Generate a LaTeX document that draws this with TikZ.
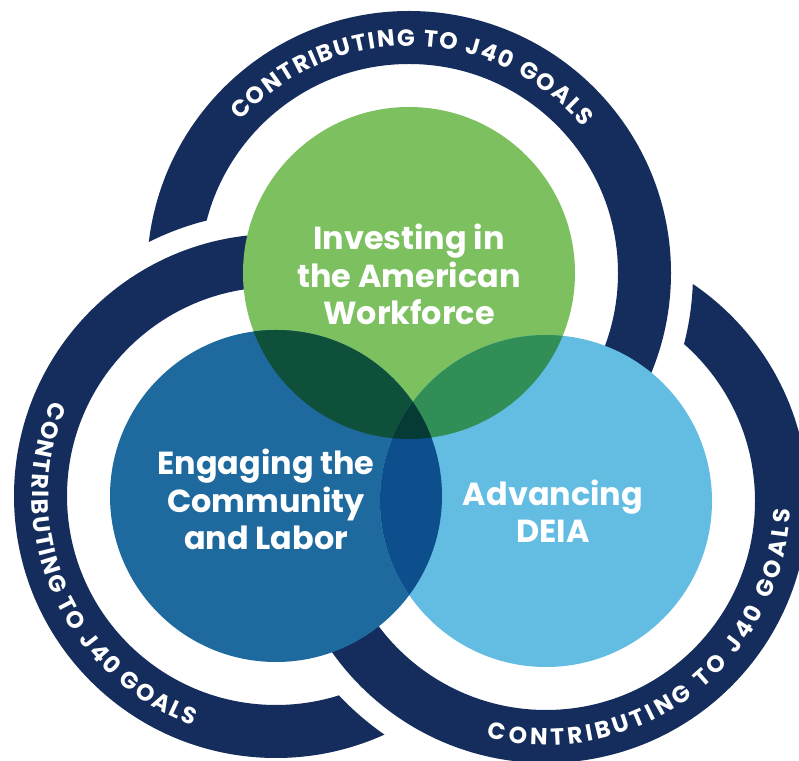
\documentclass[tikz,border=0pt]{standalone}
\usepackage{fontspec}
\newfontfamily\pop{Poppins}
\usetikzlibrary{decorations.text}
\definecolor{navy}{RGB}{21,45,92}
\definecolor{cgreen}{RGB}{124,192,96}
\definecolor{cdblue}{RGB}{30,106,158}
\definecolor{clblue}{RGB}{99,189,227}
\definecolor{cGD}{RGB}{15,80,59}
\definecolor{cGL}{RGB}{48,142,86}
\definecolor{cDL}{RGB}{12,79,140}
\definecolor{cGDL}{RGB}{6,59,53}
\begin{document}
\begin{tikzpicture}[x=1bp,y=1bp,
  ringtext/.style={decorate, decoration={text along path,
    text={|\pop\bfseries\fontsize{23.5}{24}\selectfont|CONTRIBUTING TO J40 GOALS},
    text align={fit to path}, text color=white}},
  circlelabel/.style={text=white, font=\pop\bfseries\fontsize{32}{38}\selectfont, align=center, inner sep=0pt}]
\useasboundingbox (0,0) rectangle (799,761);
\clip (0,0) rectangle (799,761);
\fill[white] (0,0) rectangle (799,761);
\coordinate (G) at (409,488);
\coordinate (D) at (276,265);
\coordinate (L) at (546,260);
% top ring (passes under the left ring)
\begin{scope}[even odd rule]
  \clip (-20,-20) rectangle (820,780) (D) circle (284);
  \fill[navy] (G) circle (262) (G) circle (209);
\end{scope}
\path[ringtext] ([shift={(138:227)}]G) arc[start angle=138, end angle=40, radius=227];
% left ring (passes under the right ring)
\begin{scope}[even odd rule]
  \clip (-20,-20) rectangle (820,780) (L) circle (284);
  \fill[navy] (D) circle (262) (D) circle (209);
\end{scope}
\path[ringtext] ([shift={(157:244)}]D) arc[start angle=157, end angle=250, radius=244];
% right ring (passes under the top ring)
\begin{scope}[even odd rule]
  \clip (-20,-20) rectangle (820,780) (G) circle (284);
  \fill[navy] (L) circle (262) (L) circle (209);
\end{scope}
\path[ringtext] ([shift={(256:244)}]L) arc[start angle=256, end angle=358, radius=244];
% circles
\fill[cgreen] (G) circle (166);
\fill[cdblue] (D) circle (166);
\fill[clblue] (L) circle (166);
\begin{scope}
  \clip (G) circle (166);
  \fill[cGD] (D) circle (166);
  \fill[cGL] (L) circle (166);
\end{scope}
\begin{scope}
  \clip (D) circle (166);
  \fill[cDL] (L) circle (166);
  \clip (G) circle (166);
  \fill[cGDL] (L) circle (166);
\end{scope}
% labels (base anchor = baseline of the last line)
\node[circlelabel, anchor=base] (tG) at (409,436) {Investing in\\the American\\Workforce};
\node[circlelabel, anchor=base] (tD) at (266,211) {Engaging the\\Community\\and Labor};
\node[circlelabel, anchor=base] (tL) at (553,218) {Advancing\\DEIA};
\end{tikzpicture}
\end{document}
